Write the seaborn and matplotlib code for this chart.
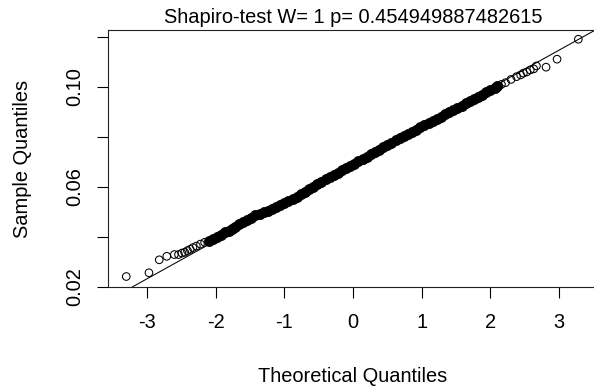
import matplotlib
matplotlib.use("Agg")
import matplotlib.pyplot as plt
import seaborn as sns
import pandas as pd

# ---- data ----
title_text = "Shapiro-test W= 1 p= 0.454949887482615"
x_label = "Theoretical Quantiles"
y_label = "Sample Quantiles"

x_ticks = [-3, -2, -1, 0, 1, 2, 3]
x_tick_labels = ["-3", "-2", "-1", "0", "1", "2", "3"]
y_ticks = [0.02, 0.04, 0.06, 0.08, 0.10, 0.12]
y_tick_labels = ["0.02", "", "0.06", "", "0.10", ""]

# sparse lower tail (open circles)
low_x = [-3.30, -2.97, -2.82, -2.71, -2.60, -2.54, -2.49, -2.45, -2.41, -2.37,
         -2.33, -2.28, -2.22, -2.16]
low_y = [0.0240, 0.0255, 0.0307, 0.0321, 0.0328, 0.0328, 0.0334, 0.0337, 0.0344,
         0.0349, 0.0356, 0.0362, 0.0370, 0.0377]

# dense central band (points overlap into a solid band)
band_x = [-2.10, -2.04, -1.98, -1.92, -1.86, -1.80, -1.76, -1.72, -1.66, -1.60,
          -1.54, -1.48, -1.42, -1.36, -1.30, -1.24, -1.18, -1.12, -1.06, -1.00,
          -0.94, -0.88, -0.82, -0.76, -0.70, -0.64, -0.58, -0.52, -0.46, -0.40,
          -0.34, -0.28, -0.22, -0.16, -0.10, -0.04, 0.02, 0.08, 0.14, 0.20,
          0.26, 0.32, 0.38, 0.44, 0.50, 0.56, 0.62, 0.68, 0.74, 0.80,
          0.86, 0.92, 0.98, 1.04, 1.10, 1.16, 1.22, 1.28, 1.34, 1.40,
          1.46, 1.52, 1.58, 1.64, 1.70, 1.76, 1.82, 1.88, 1.94, 2.00,
          2.06, 2.10]
band_y = [0.0383, 0.0391, 0.0398, 0.0408, 0.0419, 0.0422, 0.0430, 0.0438, 0.0449, 0.0460,
          0.0468, 0.0476, 0.0485, 0.0491, 0.0497, 0.0503, 0.0510, 0.0517, 0.0525, 0.0535,
          0.0543, 0.0551, 0.0560, 0.0569, 0.0579, 0.0590, 0.0600, 0.0610, 0.0619, 0.0629,
          0.0639, 0.0647, 0.0656, 0.0666, 0.0675, 0.0684, 0.0692, 0.0701, 0.0712, 0.0721,
          0.0730, 0.0739, 0.0749, 0.0758, 0.0767, 0.0776, 0.0787, 0.0796, 0.0804, 0.0812,
          0.0820, 0.0829, 0.0838, 0.0847, 0.0855, 0.0865, 0.0872, 0.0880, 0.0890, 0.0899,
          0.0909, 0.0917, 0.0925, 0.0935, 0.0944, 0.0952, 0.0960, 0.0968, 0.0978, 0.0987,
          0.0996, 0.1003]

# sparse upper tail (open circles)
high_x = [2.16, 2.22, 2.30, 2.38, 2.44, 2.48, 2.53, 2.58, 2.63, 2.67, 2.81, 2.97, 3.28]
high_y = [0.1010, 0.1017, 0.1030, 0.1041, 0.1048, 0.1055, 0.1060, 0.1068, 0.1072,
          0.1084, 0.1079, 0.1111, 0.1191]

# reference line (qqline)
line_intercept = 0.0689
line_slope = 0.01528

# ---- figure ----
sns.set_style("white")
plt.rcParams["font.family"] = ["Liberation Sans", "DejaVu Sans"]
plt.rcParams["font.size"] = 14.4

W, H = 594, 389
fig = plt.figure(figsize=(W / 100, H / 100), dpi=100)
ax = fig.add_axes([108 / W, (H - 287) / H, (598 - 108) / W, (287 - 30) / H])

tails = pd.DataFrame({"x": low_x + high_x, "y": low_y + high_y})
band = pd.DataFrame({"x": band_x, "y": band_y})

sns.scatterplot(data=band, x="x", y="y", ax=ax, s=52, marker="o",
                facecolor="black", edgecolor="black", linewidth=0.6, zorder=3)
sns.scatterplot(data=tails, x="x", y="y", ax=ax, s=30, marker="o",
                facecolor="none", edgecolor="black", linewidth=0.75, zorder=3)
ax.axline((0, line_intercept), slope=line_slope, color="black", lw=0.75, zorder=2)

ax.set_xlim(-3.566, 3.566)
ax.set_ylim(0.0198, 0.1228)

ax.set_xticks(x_ticks)
ax.set_xticklabels(x_tick_labels)
ax.set_yticks(y_ticks)
ax.set_yticklabels(y_tick_labels, rotation=90, va="center")

ax.tick_params(axis="both", direction="out", length=8, width=0.8, color="black",
               labelsize=14.4, labelcolor="black", bottom=True, left=True)
ax.tick_params(axis="x", pad=11)
ax.tick_params(axis="y", pad=9)

for side in ["left", "bottom", "top"]:
    ax.spines[side].set_visible(True)
    ax.spines[side].set_color("#222222")
    ax.spines[side].set_linewidth(0.8)
ax.spines["right"].set_visible(False)

ax.set_title(title_text, fontsize=14.4, pad=5, color="black")
ax.set_xlabel(x_label, fontsize=14.4, color="black")
ax.set_ylabel(y_label, fontsize=14.4, color="black")
ax.xaxis.set_label_coords(0.5, -0.31)
ax.yaxis.set_label_coords(-0.155, 0.5)

fig.savefig("out.png", dpi=100)
